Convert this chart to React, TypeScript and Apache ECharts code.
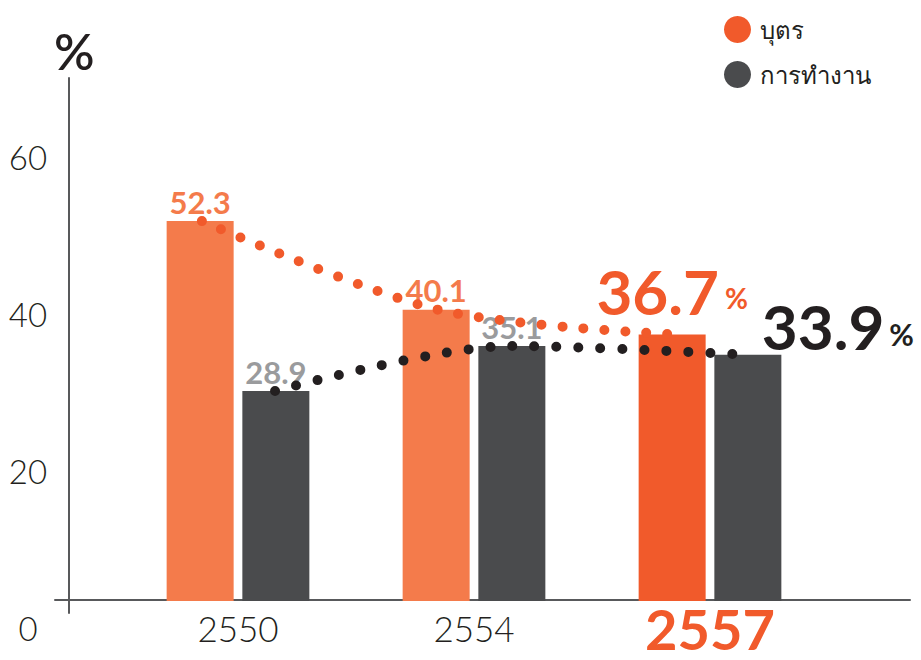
import React, { useEffect, useRef } from "react";
import * as echarts from "echarts";

const years = ["2550", "2554", "2557"];
const children = [52.3, 40.1, 36.7];
const work = [28.9, 35.1, 33.9];
const yTicks = [0, 20, 40, 60];
const seriesNames = ["บุตร", "การทำงาน"];

const ORANGE = "#F47B4B";
const ORANGE_HL = "#F15A2B";
const DARK = "#4A4B4D";
const INK = "#231F20";
const GREY = "#9A9B9D";
const FONT = "Lato, 'Noto Sans', sans-serif";

export default function App() {
  const ref = useRef<HTMLDivElement>(null);
  useEffect(() => {
    const chart = echarts.init(ref.current!, null, { renderer: "svg" });
    const last = years.length - 1;
    const option: any = {
      animation: false,
      textStyle: { fontFamily: FONT },
      legend: {
        data: [
          { name: seriesNames[0], itemStyle: { color: ORANGE_HL } },
          { name: seriesNames[1], itemStyle: { color: DARK } },
        ],
        orient: "vertical",
        left: 719,
        top: 11,
        icon: "circle",
        itemWidth: 27,
        itemHeight: 27,
        itemGap: 18,
        textStyle: { fontSize: 24, color: INK, fontFamily: FONT, padding: [0, 0, 0, 4] },
      },
      graphic: [
        {
          type: "text",
          left: 54,
          top: 26,
          style: { text: "%", fontSize: 50, fontWeight: 600, fill: INK, fontFamily: FONT },
        },
      ],
      grid: [
        { left: 120, width: 708, top: 78, bottom: 59 },
        { left: 55, right: 11, top: 78, bottom: 47 },
        { left: 69, right: 11, top: 78, bottom: 32 },
      ],
      xAxis: [
        {
          type: "category",
          gridIndex: 0,
          data: years,
          axisLine: { show: false },
          axisTick: { show: false },
          axisLabel: {
            margin: 27,
            verticalAlign: "middle",
            formatter: (v: string) => (v === years[last] ? `{hl|${v}}` : `{n|${v}}`),
            rich: {
              n: { fontSize: 35, lineHeight: 36, fontWeight: 300, color: INK, fontFamily: FONT },
              hl: {
                fontSize: 56,
                lineHeight: 54,
                fontWeight: "bold",
                color: ORANGE_HL,
                fontFamily: FONT,
              },
            },
          },
        },
        {
          type: "value",
          gridIndex: 1,
          min: -14,
          max: 841,
          axisLine: { show: true, onZero: true, lineStyle: { color: "#58595B", width: 2 } },
          axisTick: { show: false },
          axisLabel: { show: false },
          splitLine: { show: false },
        },
        {
          type: "value",
          gridIndex: 2,
          show: false,
        },
        {
          type: "value",
          gridIndex: 0,
          min: -0.5,
          max: 2.5,
          show: false,
        },
      ],
      yAxis: [
        { type: "value", gridIndex: 0, min: 0, max: 72, show: false },
        {
          type: "value",
          gridIndex: 1,
          min: -13,
          max: 522,
          axisLine: { show: true, onZero: true, lineStyle: { color: "#58595B", width: 2 } },
          axisTick: { show: false },
          axisLabel: { show: false },
          splitLine: { show: false },
        },
        {
          type: "value",
          gridIndex: 2,
          min: 0,
          max: 70,
          interval: 20,
          axisLine: { show: false },
          axisTick: { show: false },
          splitLine: { show: false },
          axisLabel: {
            margin: 41,
            align: "center",
            fontSize: 33,
            fontWeight: 300,
            color: INK,
            fontFamily: FONT,
            formatter: (v: number) => (yTicks.includes(v) ? String(v) : ""),
          },
        },
      ],
      series: [
        {
          name: seriesNames[0],
          type: "bar",
          xAxisIndex: 0,
          yAxisIndex: 0,
          barWidth: 67,
          barGap: "13%",
          itemStyle: { color: ORANGE },
          label: {
            show: true,
            position: "top",
            distance: 4,
            fontSize: 31,
            fontWeight: "bold",
            color: ORANGE,
            fontFamily: FONT,
          },
          data: children.map((v, i) =>
            i === last
              ? {
                  value: v,
                  itemStyle: { color: ORANGE_HL },
                  label: {
                    distance: 12,
                    formatter: "{big|{c}}{pct|%}",
                    rich: {
                      big: { fontSize: 62, fontWeight: "bold", color: ORANGE_HL, fontFamily: FONT },
                      pct: {
                        fontSize: 28,
                        color: ORANGE_HL,
                        fontFamily: FONT,
                        verticalAlign: "bottom",
                        padding: [0, 0, 10, 6],
                      },
                    },
                  },
                }
              : v
          ),
        },
        {
          name: seriesNames[1],
          type: "bar",
          xAxisIndex: 0,
          yAxisIndex: 0,
          barWidth: 67,
          barGap: "13%",
          itemStyle: { color: DARK },
          label: {
            show: true,
            position: "top",
            distance: 4,
            fontSize: 31,
            fontWeight: "bold",
            color: GREY,
            fontFamily: FONT,
          },
          data: work.map((v, i) =>
            i === last
              ? {
                  value: v,
                  label: {
                    distance: -2,
                    offset: [90, 0],
                    formatter: "{big|{c}}{pct|%}",
                    rich: {
                      big: { fontSize: 62, fontWeight: "bold", color: INK, fontFamily: FONT },
                      pct: {
                        fontSize: 30,
                        color: INK,
                        fontFamily: FONT,
                        verticalAlign: "bottom",
                        padding: [0, 0, 8, 5],
                      },
                    },
                  },
                }
              : v
          ),
        },
        {
          name: "children-trend",
          type: "line",
          xAxisIndex: 3,
          yAxisIndex: 0,
          smooth: 0.3,
          symbol: "none",
          z: 5,
          lineStyle: { color: ORANGE_HL, width: 10, type: [0, 21], cap: "round" },
          data: children.map((v, i) => [i - 0.153, v]),
        },
        {
          name: "work-trend",
          type: "line",
          xAxisIndex: 3,
          yAxisIndex: 0,
          smooth: 0.3,
          symbol: "none",
          z: 5,
          lineStyle: { color: INK, width: 10, type: [0, 22], cap: "round" },
          data: work.map((v, i) => [i + 0.157, v]),
        },
      ],
    };
    chart.setOption(option);
    return () => chart.dispose();
  }, []);
  return <div ref={ref} style={{ width: 921, height: 660, position: "absolute", left: 0, top: 0 }} />;
}
